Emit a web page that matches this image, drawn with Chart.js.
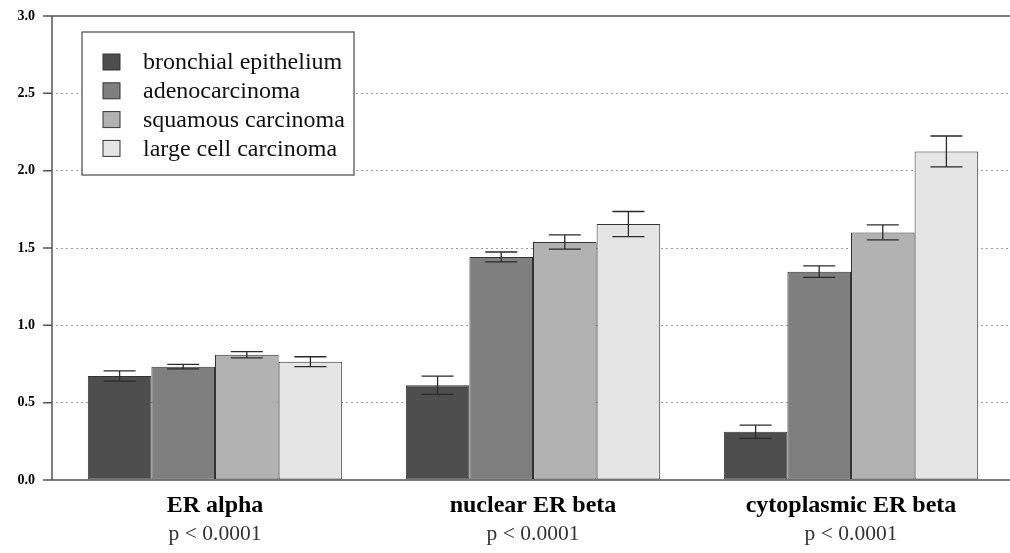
<!DOCTYPE html>
<html>
<head>
<meta charset="utf-8">
<script src="https://cdn.jsdelivr.net/npm/chart.js@4/dist/chart.umd.min.js"></script>
<style>
  html, body { margin: 0; padding: 0; background: #fff; overflow: hidden; }
  canvas { display: block; }
</style>
</head>
<body>
<canvas id="chart" width="1010" height="553"></canvas>
<script>
const categories = ['ER alpha', 'nuclear ER beta', 'cytoplasmic ER beta'];
const pValues = ['p < 0.0001', 'p < 0.0001', 'p < 0.0001'];
const groupNames = ['bronchial epithelium', 'adenocarcinoma', 'squamous carcinoma', 'large cell carcinoma'];
const groupColors = ['#4d4d4d', '#7f7f7f', '#b2b2b2', '#e5e5e5'];

const bronchial = [0.672, 0.613, 0.312];
const adeno = [0.733, 1.442, 1.347];
const squamous = [0.810, 1.539, 1.601];
const largeCell = [0.765, 1.655, 2.124];

const bronchialErr = [0.033, 0.059, 0.043];
const adenoErr = [0.014, 0.032, 0.037];
const squamousErr = [0.020, 0.046, 0.048];
const largeCellErr = [0.032, 0.081, 0.100];

const yTicks = [0, 0.5, 1, 1.5, 2, 2.5, 3];

const seriesValues = [bronchial, adeno, squamous, largeCell];
const seriesErrors = [bronchialErr, adenoErr, squamousErr, largeCellErr];

const serif = '"Liberation Serif", "DejaVu Serif", serif';
const axisColor = '#555';

// error bars on top of each bar
const errorBars = {
  id: 'errorBars',
  afterDatasetsDraw(chart) {
    const ctx = chart.ctx;
    const y = chart.scales.y;
    ctx.save();
    ctx.strokeStyle = '#2b2b2b';
    ctx.lineWidth = 1.3;
    chart.data.datasets.forEach((ds, d) => {
      const meta = chart.getDatasetMeta(d);
      meta.data.forEach((bar, i) => {
        const v = ds.data[i];
        const e = seriesErrors[d][i];
        const top = y.getPixelForValue(v + e);
        const bot = y.getPixelForValue(v - e);
        const half = 16;
        ctx.beginPath();
        ctx.moveTo(bar.x, top); ctx.lineTo(bar.x, bot);
        ctx.moveTo(bar.x - half, top); ctx.lineTo(bar.x + half, top);
        ctx.moveTo(bar.x - half, bot); ctx.lineTo(bar.x + half, bot);
        ctx.stroke();
      });
    });
    ctx.restore();
  }
};

// axis frame, category labels and the boxed legend
const frame = {
  id: 'frame',
  afterDraw(chart) {
    const ctx = chart.ctx;
    const y = chart.scales.y;
    const x = chart.scales.x;
    const axisX = 52;
    ctx.save();
    ctx.strokeStyle = axisColor;
    ctx.lineWidth = 1.5;
    ctx.beginPath();
    ctx.moveTo(axisX, y.getPixelForValue(3));
    ctx.lineTo(axisX, y.getPixelForValue(0));
    ctx.moveTo(axisX, y.getPixelForValue(3));
    ctx.lineTo(chart.width, y.getPixelForValue(3));
    ctx.moveTo(axisX, y.getPixelForValue(0));
    ctx.lineTo(chart.width, y.getPixelForValue(0));
    yTicks.forEach(t => {
      const py = y.getPixelForValue(t);
      ctx.moveTo(43, py); ctx.lineTo(axisX, py);
    });
    ctx.stroke();

    ctx.textAlign = 'center';
    ctx.textBaseline = 'alphabetic';
    categories.forEach((c, i) => {
      const cx = x.getPixelForValue(i);
      ctx.fillStyle = '#000';
      ctx.font = 'bold 24px ' + serif;
      ctx.fillText(c, cx, 512);
      ctx.fillStyle = '#333';
      ctx.font = '21.5px ' + serif;
      ctx.fillText(pValues[i], cx, 540);
    });

    // legend
    const lx = 82, ly = 32, lw = 272, lh = 143;
    ctx.fillStyle = '#fff';
    ctx.fillRect(lx, ly, lw, lh);
    ctx.strokeStyle = axisColor;
    ctx.lineWidth = 1.3;
    ctx.strokeRect(lx, ly, lw, lh);
    ctx.font = '24px ' + serif;
    ctx.textAlign = 'left';
    ctx.textBaseline = 'middle';
    chart.data.datasets.forEach((ds, d) => {
      const cy = 62 + d * 28.8;
      ctx.fillStyle = ds.backgroundColor;
      ctx.fillRect(103, cy - 8, 17, 16);
      ctx.strokeStyle = '#333';
      ctx.lineWidth = 1;
      ctx.strokeRect(103, cy - 8, 17, 16);
      ctx.fillStyle = '#111';
      ctx.fillText(ds.label, 143, cy + 1);
    });
    ctx.restore();
  }
};

new Chart(document.getElementById('chart'), {
  type: 'bar',
  data: {
    labels: categories,
    datasets: groupNames.map((name, d) => ({
      label: name,
      data: seriesValues[d],
      backgroundColor: groupColors[d],
      borderColor: '#333',
      borderWidth: 1,
      borderSkipped: false,
      categoryPercentage: 0.8,
      barPercentage: 1.0
    }))
  },
  options: {
    responsive: false,
    animation: false,
    layout: { padding: { top: 16, right: -5, bottom: 65, left: 0 } },
    plugins: {
      legend: { display: false },
      tooltip: { enabled: false }
    },
    scales: {
      x: {
        grid: { display: false },
        border: { display: false },
        ticks: { display: false }
      },
      y: {
        min: 0,
        max: 3,
        afterFit(scale) {
          scale.width = 56;
          scale.paddingTop = 0;
          scale.paddingBottom = 0;
        },
        ticks: {
          stepSize: 0.5,
          padding: 21,
          color: '#000',
          font: { family: serif, size: 14, weight: 'bold' },
          callback: v => Number(v).toFixed(1)
        },
        grid: {
          drawTicks: false,
          color: ctx => (ctx.tick && (ctx.tick.value === 0 || ctx.tick.value === 3)) ? 'rgba(0,0,0,0)' : '#9a9a9a',
          lineWidth: 1
        },
        border: { display: false, dash: [2, 3] }
      }
    }
  },
  plugins: [errorBars, frame]
});
</script>
</body>
</html>
